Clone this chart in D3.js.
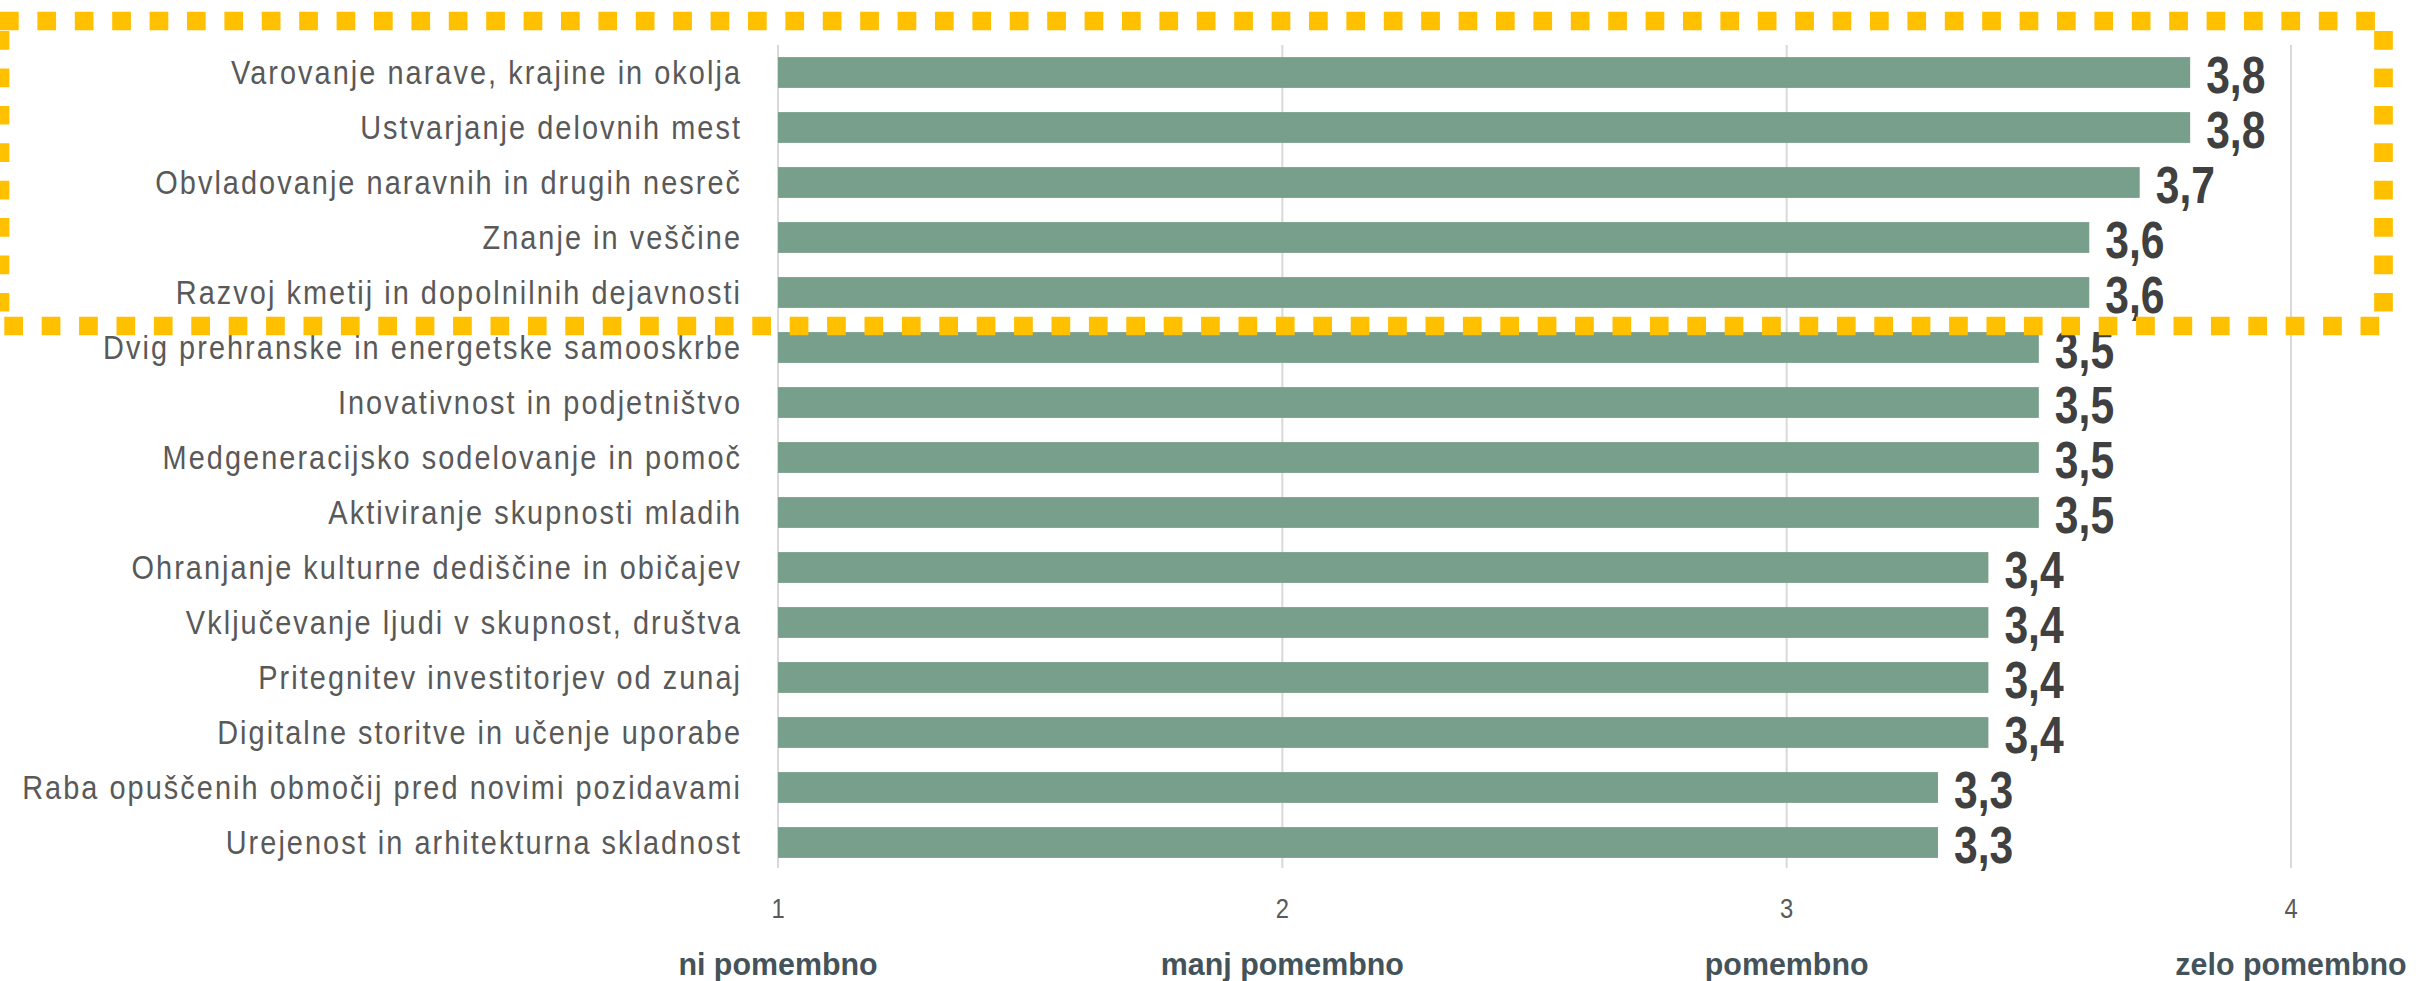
<!DOCTYPE html>
<html>
<head>
<meta charset="utf-8">
<script src="https://cdn.jsdelivr.net/npm/d3@7"></script>
<style>
  html, body { margin: 0; padding: 0; background: #fff; }
  svg { display: block; }
</style>
</head>
<body>
<div id="chart"></div>
<script>
// Data
const categories = [
  "Varovanje narave, krajine in okolja",
  "Ustvarjanje delovnih mest",
  "Obvladovanje naravnih in drugih nesreč",
  "Znanje in veščine",
  "Razvoj kmetij in dopolnilnih dejavnosti",
  "Dvig prehranske in energetske samooskrbe",
  "Inovativnost in podjetništvo",
  "Medgeneracijsko sodelovanje in pomoč",
  "Aktiviranje skupnosti mladih",
  "Ohranjanje kulturne dediščine in običajev",
  "Vključevanje ljudi v skupnost, društva",
  "Pritegnitev investitorjev od zunaj",
  "Digitalne storitve in učenje uporabe",
  "Raba opuščenih območij pred novimi pozidavami",
  "Urejenost in arhitekturna skladnost"
];
const values = [3.8, 3.8, 3.7, 3.6, 3.6, 3.5, 3.5, 3.5, 3.5, 3.4, 3.4, 3.4, 3.4, 3.3, 3.3];
const tickValues = [1, 2, 3, 4];
const tickNames = ["ni pomembno", "manj pomembno", "pomembno", "zelo pomembno"];

const width = 2420;
const height = 981;
const font = "'Liberation Sans', Arial, sans-serif";

const svg = d3.select("#chart")
  .append("svg")
  .attr("width", width)
  .attr("height", height);

// Scales
const x = d3.scaleLinear().domain([1, 4]).range([778, 2291]);
const y = d3.scaleBand()
  .domain(categories)
  .range([45, 870])
  .paddingInner(0.44)
  .paddingOuter(0.22);

const fmt = d3.formatLocale({ decimal: ",", thousands: ".", grouping: [3], currency: ["", " €"] }).format(".1f");

// Gridlines
svg.append("g")
  .selectAll("line")
  .data(tickValues)
  .join("line")
  .attr("x1", d => x(d))
  .attr("x2", d => x(d))
  .attr("y1", 45)
  .attr("y2", 868)
  .attr("stroke", "#d9d9d9")
  .attr("stroke-width", 2);

// Bars
svg.append("g")
  .selectAll("rect")
  .data(values)
  .join("rect")
  .attr("x", x(1))
  .attr("y", (d, i) => y(categories[i]))
  .attr("width", d => x(d) - x(1))
  .attr("height", y.bandwidth())
  .attr("fill", "#789f8b");

// Category labels (condensed look via horizontal squeeze)
svg.append("g")
  .selectAll("text")
  .data(categories)
  .join("text")
  .attr("transform", d => `translate(742,${y(d) + y.bandwidth() / 2}) scale(0.85,1)`)
  .attr("dy", "0.33em")
  .attr("text-anchor", "end")
  .style("font-family", font)
  .style("font-size", "34px")
  .style("letter-spacing", "2.4px")
  .style("fill", "#595959")
  .text(d => d);

// Value labels
svg.append("g")
  .selectAll("text")
  .data(values)
  .join("text")
  .attr("transform", (d, i) => `translate(${x(d) + 16},${y(categories[i]) + y.bandwidth() / 2}) scale(0.82,1)`)
  .attr("dy", "0.4em")
  .style("font-family", font)
  .style("font-weight", "bold")
  .style("font-size", "52px")
  .style("fill", "#404040")
  .text(d => fmt(d));

// X axis tick numbers
svg.append("g")
  .selectAll("text")
  .data(tickValues)
  .join("text")
  .attr("transform", d => `translate(${x(d)},908) scale(0.85,1)`)
  .attr("dy", "0.36em")
  .attr("text-anchor", "middle")
  .style("font-family", font)
  .style("font-size", "28px")
  .style("fill", "#595959")
  .text(d => d);

// Scale names under ticks
svg.append("g")
  .selectAll("text")
  .data(tickNames)
  .join("text")
  .attr("transform", (d, i) => `translate(${x(tickValues[i])},975) scale(0.95,1)`)
  .attr("text-anchor", "middle")
  .style("font-family", font)
  .style("font-weight", "bold")
  .style("font-size", "32px")
  .style("fill", "#44535a")
  .text(d => d);

// Highlight frame around top five items
const frameTop = 21;
const frameBottom = 326;
svg.append("rect")
  .attr("x", 0)
  .attr("y", frameTop)
  .attr("width", 2383.5)
  .attr("height", frameBottom - frameTop)
  .attr("fill", "none")
  .attr("stroke", "#ffc000")
  .attr("stroke-width", 18.7)
  .attr("stroke-dasharray", "18.7 18.7");
</script>
</body>
</html>
